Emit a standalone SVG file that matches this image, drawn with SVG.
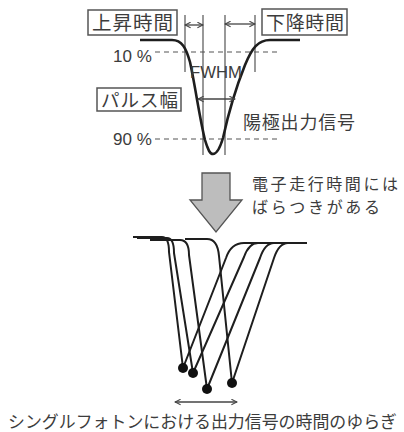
<svg xmlns="http://www.w3.org/2000/svg" width="404" height="432" viewBox="0 0 404 432">
<defs>
<style>
.jp{font-family:"Noto Sans CJK JP","Noto Sans",sans-serif;fill:#3c3c3c}
.lat{font-family:"Liberation Sans",Arial,sans-serif;fill:#3c3c3c}
.box{fill:#fff;stroke:#555;stroke-width:1.5}
.vl{stroke:#555;stroke-width:1.2;fill:none}
.dash{stroke:#555;stroke-width:1.2;stroke-dasharray:5 4;fill:none}
.arr{stroke:#444;stroke-width:1.3;fill:none;marker-start:url(#ah);marker-end:url(#ah)}
.pulse{stroke:#1e1e1e;stroke-width:2.6;fill:none;stroke-linejoin:round}
.sp{stroke:#1e1e1e;stroke-width:2;fill:none;stroke-linejoin:round}
.dot{fill:#111}
</style>
<marker id="ah" viewBox="0 0 10 10" refX="9" refY="5" markerWidth="7" markerHeight="7" markerUnits="userSpaceOnUse" orient="auto-start-reverse">
<path d="M1,1 L9,5 L1,9" fill="none" stroke="#444" stroke-width="1.5"/>
</marker>
</defs>
<rect width="404" height="432" fill="#fff"/>

<g id="top-pulse">
<path class="dash" d="M155,52 H279"/>
<path class="dash" d="M155,139 H279"/>
<path class="vl" d="M185,15 V72 M203,15 V155 M225,15 V155 M255,15 V72"/>
<path class="pulse" d="M140,40 H172 C182,40 186,48 190,62 C195,85 200,120 205,140 C208,150 210,154 213,154 C217,154 220,148 223,138 C228,115 235,90 245,65 C252,48 258,40 270,40 H300"/>
</g>

<g id="labels">
<text class="lat" x="113" y="62" font-size="17">10 %</text>
<text class="lat" x="113" y="145" font-size="17">90 %</text>
<text class="lat" x="190" y="78" font-size="17" textLength="52" lengthAdjust="spacingAndGlyphs">FWHM</text>
<text class="jp" x="243" y="129" font-size="18" textLength="112">陽極出力信号</text>
</g>

<g id="rise-time">
<rect class="box" x="88" y="10" width="89" height="25"/>
<text class="jp" x="92" y="30" font-size="19.5" textLength="81">上昇時間</text>
</g>
<g id="fall-time">
<rect class="box" x="262" y="9" width="85" height="26"/>
<text class="jp" x="266" y="30" font-size="19" textLength="78">下降時間</text>
</g>
<g id="pulse-width">
<rect class="box" x="97" y="88" width="84" height="23"/>
<text class="jp" x="101" y="106.5" font-size="18.5" textLength="77">パルス幅</text>
</g>

<g id="connectors">
<path class="arr" d="M185,25 H203"/>
<path class="arr" d="M225,24 H255"/>
<path class="arr" d="M198,99 H235"/>
<path class="arr" d="M175,402 H237"/>
</g>

<g id="big-arrow">
<polygon points="202,173 230,173 230,200 242,200 216,232 190,200 202,200" fill="#bdbdbd" stroke="#555" stroke-width="1.3" stroke-linejoin="miter"/>
</g>
<g id="transit-note">
<text class="jp" x="252" y="189.5" font-size="16" textLength="146">電子走行時間には</text>
<text class="jp" x="252" y="213" font-size="16" textLength="128">ばらつきがある</text>
</g>

<g id="jitter-pulses">
<path class="sp" d="M133,237 H162 C167,237 169,242 169,252 L183,368 L226,258 Q231,243 244,243 H302"/>
<path class="sp" d="M137,238 H167 C172,238 174,243 174,253 L193,373 L244,257 Q249,243 258,243 H304"/>
<path class="sp" d="M150,240 H180 C186,240 189,245 189,255 L207,389 L260,258 Q265,243 274,243 H305"/>
<path class="sp" d="M185,239 H207 C214,239 218,244 219,256 L232,383 L274,258 Q279,243 288,243 H307"/>
<circle class="dot" cx="183" cy="368" r="5"/>
<circle class="dot" cx="193" cy="373" r="5"/>
<circle class="dot" cx="207" cy="389" r="5"/>
<circle class="dot" cx="232" cy="383" r="5"/>
</g>

<g id="caption">
<text class="jp" x="8" y="428" font-size="17" textLength="389" lengthAdjust="spacingAndGlyphs">シングルフォトンにおける出力信号の時間のゆらぎ</text>
</g>
</svg>
